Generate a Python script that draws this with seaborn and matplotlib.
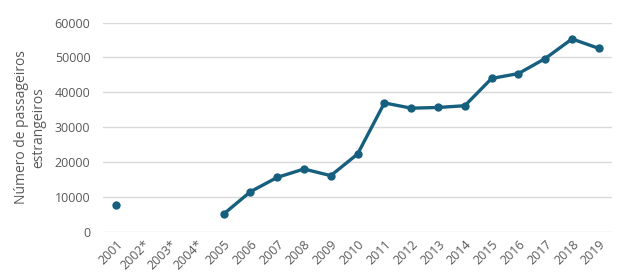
import numpy as np
import pandas as pd
import matplotlib
matplotlib.use("Agg")
import matplotlib.pyplot as plt
import seaborn as sns

years = ["2001", "2002*", "2003*", "2004*", "2005", "2006", "2007", "2008", "2009",
         "2010", "2011", "2012", "2013", "2014", "2015", "2016", "2017", "2018", "2019"]
passengers = [7900, np.nan, np.nan, np.nan, 5200, 11600, 15700, 18100, 16200,
              22400, 37000, 35500, 35700, 36200, 44000, 45400, 49700, 55300, 52600]
yticks = [0, 10000, 20000, 30000, 40000, 50000, 60000]
ylabel = "Número de passageiros\nestrangeiros"

sns.set_style("white")
plt.rcParams['font.family'] = ['Open Sans', 'DejaVu Sans']

df = pd.DataFrame({"pos": np.arange(len(years)), "year": years, "value": passengers})

fig = plt.figure(figsize=(6.26, 2.8), dpi=100)
ax = fig.add_axes([0.1645, 0.1704, 0.978 - 0.1645, 0.9196 - 0.1704])

color = "#165f7f"
valid = df["value"].notna()
seg_id = (valid != valid.shift()).cumsum()
for _, seg in df[valid].groupby(seg_id[valid]):
    sns.lineplot(data=seg, x="pos", y="value", ax=ax, color=color, linewidth=2.4,
                 marker="o", markersize=6, markeredgewidth=0)

ax.set_xlim(-0.5, len(years) - 0.5)
ax.set_ylim(0, 60000)
ax.set_yticks(yticks)
ax.set_yticklabels([str(v) for v in yticks])
ax.set_xticks(df["pos"])
ax.set_xticklabels(years, rotation=45, ha="right", rotation_mode="anchor")
ax.grid(axis="y", color="#d9d9d9", linewidth=1)
ax.set_axisbelow(True)
for s in ax.spines.values():
    s.set_visible(False)
ax.tick_params(axis="both", length=0, labelsize=9, colors="#595959")
ax.tick_params(axis="y", pad=9)
ax.tick_params(axis="x", pad=4)
ax.set_xlabel("")
ax.set_ylabel(ylabel, fontsize=10, color="#595959", labelpad=6)

fig.savefig("out.png", dpi=100)
